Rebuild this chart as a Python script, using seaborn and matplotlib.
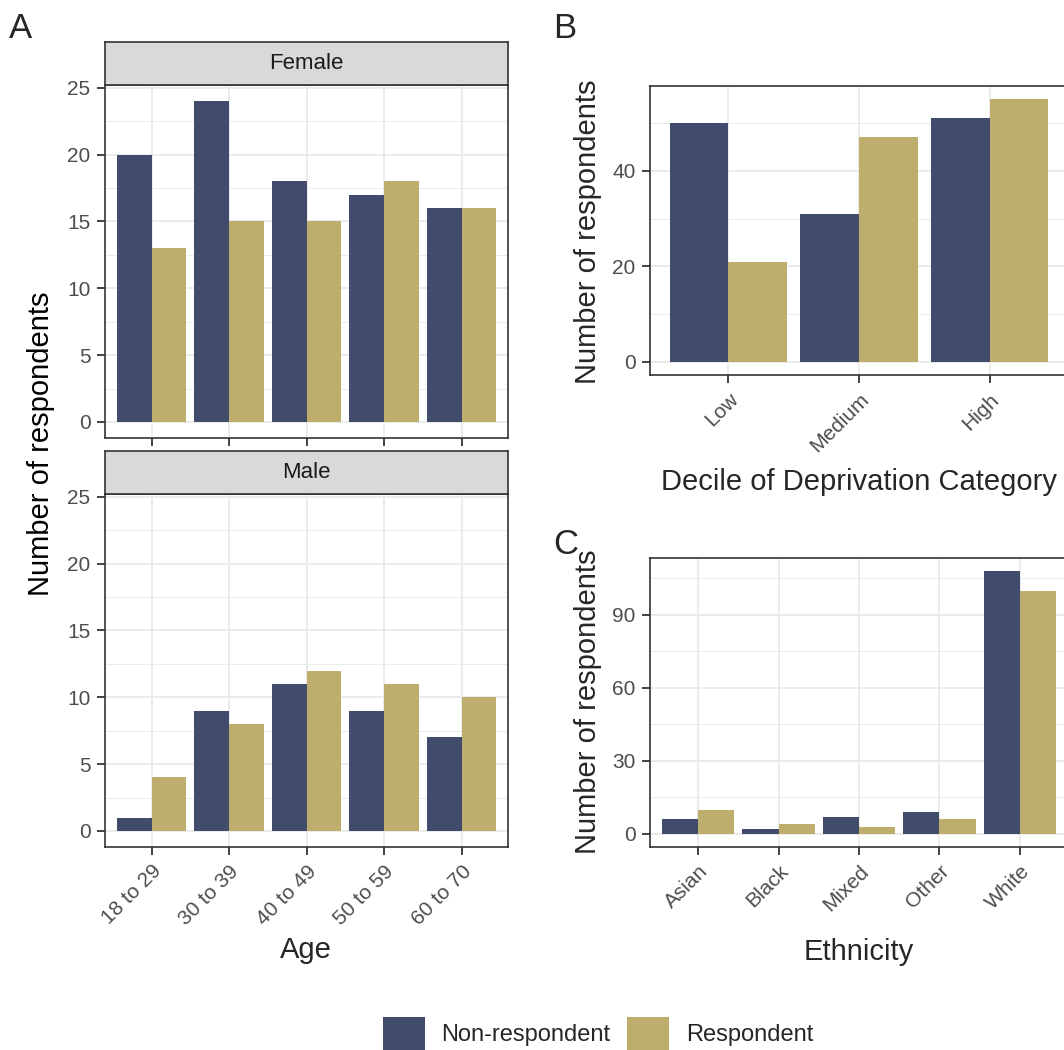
import matplotlib
matplotlib.use("Agg")
import matplotlib.pyplot as plt
from matplotlib.patches import Patch
import seaborn as sns
import pandas as pd

# ---- data -------------------------------------------------------------
status = ["Non-respondent", "Respondent"]

age_groups = ["18 to 29", "30 to 39", "40 to 49", "50 to 59", "60 to 70"]
female_non = [20, 24, 18, 17, 16]
female_resp = [13, 15, 15, 18, 16]
male_non = [1, 9, 11, 9, 7]
male_resp = [4, 8, 12, 11, 10]

deprivation = ["Low", "Medium", "High"]
dep_non = [50, 31, 51]
dep_resp = [21, 47, 55]

ethnicity = ["Asian", "Black", "Mixed", "Other", "White"]
eth_non = [6, 2, 7, 9, 108]
eth_resp = [10, 4, 3, 6, 100]

colors = {"Non-respondent": "#414B6B", "Respondent": "#BDAE6E"}

# ---- style ------------------------------------------------------------
sns.set_style("white")
plt.rcParams["font.family"] = ["Liberation Sans", "DejaVu Sans"]

W, H = 1064, 1050
fig = plt.figure(figsize=(W / 100, H / 100), dpi=100)

GRID = "#EBEBEB"
DARK = "#333333"
TICKC = "#4D4D4D"
TICK_FS = 15
TITLE_FS = 21


def px_axes(left, top, right, bottom):
    return fig.add_axes([left / W, 1 - bottom / H, (right - left) / W, (bottom - top) / H])


def long_frame(cats, non, resp, name):
    return pd.DataFrame({
        name: cats * 2,
        "n": list(non) + list(resp),
        "status": [status[0]] * len(cats) + [status[1]] * len(cats),
    })


def draw_panel(ax, df, name, cats, ylim, major, minor, show_x=True):
    sns.barplot(data=df, x=name, y="n", hue="status", hue_order=status,
                order=cats, palette=colors, width=0.9, saturation=1,
                linewidth=0, legend=False, ax=ax, zorder=3)
    ax.set_xlim(-0.6, len(cats) - 0.4)
    ax.set_ylim(*ylim)
    ax.set_yticks(major)
    ax.set_yticklabels([str(v) for v in major])
    ax.set_yticks(minor, minor=True)
    ax.set_axisbelow(True)
    ax.grid(True, which="major", axis="both", color=GRID, lw=1.4, zorder=0)
    ax.grid(True, which="minor", axis="y", color=GRID, lw=0.7, zorder=0)
    ax.set_xlabel("")
    ax.set_ylabel("")
    for s in ax.spines.values():
        s.set_visible(True)
        s.set_color(DARK)
        s.set_linewidth(1.2)
    ax.tick_params(axis="both", which="major", length=5.5, width=1.3,
                   color=DARK, labelcolor=TICKC, labelsize=TICK_FS,
                   left=True, bottom=True)
    ax.tick_params(axis="y", which="major", pad=5)
    ax.tick_params(axis="x", which="major", pad=5)
    ax.tick_params(which="minor", length=0)
    ax.set_xticks(range(len(cats)))
    if show_x:
        ax.set_xticklabels(cats, rotation=45, ha="right", va="top",
                           rotation_mode="anchor")
    else:
        ax.set_xticklabels([])


def add_strip(left, top, right, bottom, label):
    sax = px_axes(left, top, right, bottom)
    sax.set_facecolor("#D9D9D9")
    sax.set_xticks([])
    sax.set_yticks([])
    for s in sax.spines.values():
        s.set_color(DARK)
        s.set_linewidth(1.2)
    sax.text(0.5, 0.5, label, ha="center", va="center", fontsize=16,
             color="#1A1A1A", transform=sax.transAxes)


age_ticks = [0, 5, 10, 15, 20, 25]
age_minor = [2.5, 7.5, 12.5, 17.5, 22.5]

# Panel A: female facet
axF = px_axes(105, 85, 508, 438)
draw_panel(axF, long_frame(age_groups, female_non, female_resp, "age"), "age",
           age_groups, (-1.2, 25.2), age_ticks, age_minor, show_x=False)
add_strip(105, 42, 508, 85, "Female")

# Panel A: male facet
axM = px_axes(105, 494, 508, 847)
draw_panel(axM, long_frame(age_groups, male_non, male_resp, "age"), "age",
           age_groups, (-1.2, 25.2), age_ticks, age_minor, show_x=True)
add_strip(105, 451, 508, 494, "Male")

# Panel B: deprivation
axB = px_axes(650, 86, 1068, 375)
draw_panel(axB, long_frame(deprivation, dep_non, dep_resp, "dep"), "dep",
           deprivation, (-2.75, 57.75), [0, 20, 40], [10, 30, 50])

# Panel C: ethnicity
axC = px_axes(650, 558, 1068, 847)
draw_panel(axC, long_frame(ethnicity, eth_non, eth_resp, "eth"), "eth",
           ethnicity, (-5.4, 113.4), [0, 30, 60, 90], [15, 45, 75, 105])

# ---- titles and labels ------------------------------------------------
def ftext(x, y, s, **kw):
    fig.text(x / W, 1 - y / H, s, **kw)

ftext(41, 444, "Number of respondents", rotation=90, ha="center", va="center",
      fontsize=TITLE_FS, color="black")
ftext(306, 958, "Age", ha="center", va="baseline", fontsize=TITLE_FS)

ftext(588, 232, "Number of respondents", rotation=90, ha="center", va="center",
      fontsize=TITLE_FS)
ftext(859, 490, "Decile of Deprivation Category", ha="center", va="baseline",
      fontsize=TITLE_FS)

ftext(588, 702, "Number of respondents", rotation=90, ha="center", va="center",
      fontsize=TITLE_FS)
ftext(859, 960, "Ethnicity", ha="center", va="baseline", fontsize=TITLE_FS)

ftext(9, 38, "A", ha="left", va="baseline", fontsize=25)
ftext(553, 38, "B", ha="left", va="baseline", fontsize=25)
ftext(553, 554, "C", ha="left", va="baseline", fontsize=25)

# ---- legend -----------------------------------------------------------
handles = [Patch(facecolor=colors[s], edgecolor="none", label=s) for s in status]
fig.legend(handles=handles, loc="center left", ncol=2, frameon=False,
           bbox_to_anchor=(383 / W, 1 - 1033.5 / H), fontsize=17,
           handlelength=1.78, handleheight=1.78, handletextpad=0.7,
           columnspacing=0.7, borderpad=0, borderaxespad=0)

fig.savefig("out.png", dpi=100)
